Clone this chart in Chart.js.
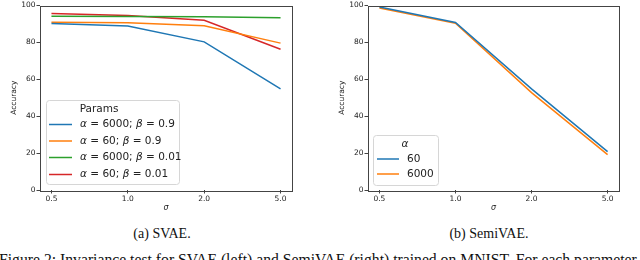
<!DOCTYPE html>
<html><head><meta charset="utf-8">
<script src="https://cdn.jsdelivr.net/npm/chart.js@4.4.1/dist/chart.umd.min.js"></script>
<style>
html,body{margin:0;padding:0;background:#fff;}
#wrap{position:relative;width:640px;height:260px;overflow:hidden;background:#fff;}
canvas{position:absolute;top:0;}
.cap{position:absolute;font-family:"Liberation Serif","Times New Roman",serif;font-size:14px;color:#111;white-space:nowrap;line-height:16px;}
</style></head><body>
<div id="wrap">
<canvas id="c1" width="320" height="215" style="left:0"></canvas>
<canvas id="c2" width="320" height="215" style="left:320px"></canvas>
<div class="cap" id="capA" style="left:162px;top:234px;transform:translate(-50%,-50%)">(a) SVAE.</div>
<div class="cap" id="capB" style="left:489px;top:234px;transform:translate(-50%,-50%)">(b) SemiVAE.</div>
<div class="cap" id="figText" style="left:-1px;top:251px;font-size:15.7px;line-height:18px">Figure 2: Invariance test for SVAE (left) and SemiVAE (right) trained on MNIST. For each parameter setting</div>
</div>
<script>
// ---- data ----
const sigmaLabels = ['0.5', '1.0', '2.0', '5.0'];
const yTickValues = [0, 20, 40, 60, 80, 100];
const svaeSeriesLabels = ['α = 6000; β = 0.9', 'α = 60; β = 0.9', 'α = 6000; β = 0.01', 'α = 60; β = 0.01'];
const svaeA6000B09 = [90.3, 88.9, 80.3, 54.8];
const svaeA60B09 = [90.9, 90.7, 89.0, 79.6];
const svaeA6000B001 = [94.2, 94.1, 93.9, 93.4];
const svaeA60B001 = [95.6, 94.6, 92.0, 76.3];
const semiSeriesLabels = ['60', '6000'];
const semiA60 = [99.2, 90.8, 54.8, 20.8];
const semiA6000 = [98.6, 90.4, 52.8, 19.2];
const svaeLegendTitle = 'Params';
const semiLegendTitle = 'α';
const yAxisTitle = 'Accuracy';
const xAxisTitle = 'σ';

const C = ['#1f77b4', '#ff7f0e', '#2ca02c', '#d62728'];
const FONT = '"DejaVu Sans", sans-serif';

function pts(arr) { return arr.map((v, i) => ({x: i, y: v})); }

function drawRich(ctx, text, x, y, size, color, align) {
  const parts = text.split(/([αβσ])/).filter(s => s.length);
  const fontFor = p => (/[αβσ]/.test(p) ? 'italic ' : '') + size + 'px ' + FONT;
  let total = 0;
  for (const p of parts) { ctx.font = fontFor(p); total += ctx.measureText(p).width; }
  let cx = align === 'center' ? x - total / 2 : x;
  ctx.fillStyle = color;
  ctx.textAlign = 'left';
  for (const p of parts) {
    ctx.font = fontFor(p);
    ctx.fillText(p, cx, y);
    cx += ctx.measureText(p).width;
  }
}

const framePlugin = {
  id: 'frame',
  afterDatasetsDraw(chart) {
    const a = chart.chartArea, ctx = chart.ctx;
    ctx.save();
    ctx.strokeStyle = '#444';
    ctx.lineWidth = 1;
    ctx.strokeRect(Math.round(a.left) + 0.5, Math.round(a.top) + 0.5, Math.round(a.right - a.left), Math.round(a.bottom - a.top));
    ctx.restore();
  }
};

const boxLegend = {
  id: 'boxLegend',
  afterDraw(chart, args, o) {
    const ctx = chart.ctx;
    ctx.save();
    const {x, y, w, h} = o.box, r = 3;
    ctx.beginPath();
    ctx.moveTo(x + r, y); ctx.lineTo(x + w - r, y); ctx.arcTo(x + w, y, x + w, y + r, r);
    ctx.lineTo(x + w, y + h - r); ctx.arcTo(x + w, y + h, x + w - r, y + h, r);
    ctx.lineTo(x + r, y + h); ctx.arcTo(x, y + h, x, y + h - r, r);
    ctx.lineTo(x, y + r); ctx.arcTo(x, y, x + r, y, r);
    ctx.closePath();
    ctx.fillStyle = 'rgba(255,255,255,0.85)';
    ctx.fill();
    ctx.strokeStyle = '#d6d6d6';
    ctx.lineWidth = 1;
    ctx.stroke();
    ctx.textBaseline = 'middle';
    drawRich(ctx, o.title, o.titleX, o.titleY, o.fontSize, '#222', 'center');
    chart.data.datasets.forEach((ds, i) => {
      const yy = o.rowY[i];
      ctx.beginPath();
      ctx.strokeStyle = ds.borderColor;
      ctx.lineWidth = 1.5;
      ctx.moveTo(o.lineX0, yy); ctx.lineTo(o.lineX1, yy);
      ctx.stroke();
      drawRich(ctx, ds.label, o.textX, yy, o.fontSize, '#222', 'left');
    });
    ctx.restore();
  }
};

function makeOptions(yWidth, rightPad, legendOpts) {
  return {
    responsive: false,
    animation: false,
    devicePixelRatio: 1,
    layout: {padding: {left: 0, top: 3.5, right: rightPad, bottom: 0}},
    plugins: {legend: {display: false}, tooltip: {enabled: false}, boxLegend: legendOpts},
    elements: {point: {radius: 0}, line: {borderWidth: 1.5, tension: 0}},
    scales: {
      x: {
        type: 'linear', min: -0.15, max: 3.15,
        afterBuildTicks: s => { s.ticks = sigmaLabels.map((_, i) => ({value: i})); },
        afterFit: s => { s.height = 25; },
        ticks: {callback: v => sigmaLabels[v], font: {family: FONT, size: 7.5}, color: '#222', padding: 1, maxRotation: 0, autoSkip: false},
        grid: {display: true, drawOnChartArea: false, drawTicks: true, tickLength: 3.5, tickColor: '#444'},
        border: {display: false},
        title: {display: true, text: xAxisTitle, font: {family: FONT, size: 8, style: 'italic'}, color: '#222', padding: {top: 0, bottom: 2}}
      },
      y: {
        min: 0, max: 100,
        afterBuildTicks: s => { s.ticks = yTickValues.map(v => ({value: v})); },
        afterFit: s => { s.width = yWidth; },
        ticks: {font: {family: FONT, size: 7.5}, color: '#222', padding: 1},
        grid: {display: true, drawOnChartArea: false, drawTicks: true, tickLength: 3.5, tickColor: '#444'},
        border: {display: false},
        title: {display: true, text: yAxisTitle, font: {family: FONT, size: 7.5}, color: '#222', padding: {top: yWidth === 40 ? 10 : 18, bottom: 0}}
      }
    }
  };
}

new Chart(document.getElementById('c1'), {
  type: 'line',
  data: {datasets: [
    {label: svaeSeriesLabels[0], data: pts(svaeA6000B09), borderColor: C[0]},
    {label: svaeSeriesLabels[1], data: pts(svaeA60B09), borderColor: C[1]},
    {label: svaeSeriesLabels[2], data: pts(svaeA6000B001), borderColor: C[2]},
    {label: svaeSeriesLabels[3], data: pts(svaeA60B001), borderColor: C[3]}
  ]},
  options: makeOptions(40, 28, {
    box: {x: 46.5, y: 100.5, w: 133, h: 84}, title: svaeLegendTitle, titleX: 99, titleY: 109,
    rowY: [124.5, 141, 157.5, 174.5], lineX0: 49, lineX1: 72, textX: 80, fontSize: 10.5
  }),
  plugins: [framePlugin, boxLegend]
});

new Chart(document.getElementById('c2'), {
  type: 'line',
  data: {datasets: [
    {label: semiSeriesLabels[0], data: pts(semiA60), borderColor: C[0]},
    {label: semiSeriesLabels[1], data: pts(semiA6000), borderColor: C[1]}
  ]},
  options: makeOptions(48, 21, {
    box: {x: 53.5, y: 135.5, w: 65, h: 50}, title: semiLegendTitle, titleX: 85, titleY: 144,
    rowY: [159, 174], lineX0: 57, lineX1: 79, textX: 87, fontSize: 10.5
  }),
  plugins: [framePlugin, boxLegend]
});
</script>
</body></html>
